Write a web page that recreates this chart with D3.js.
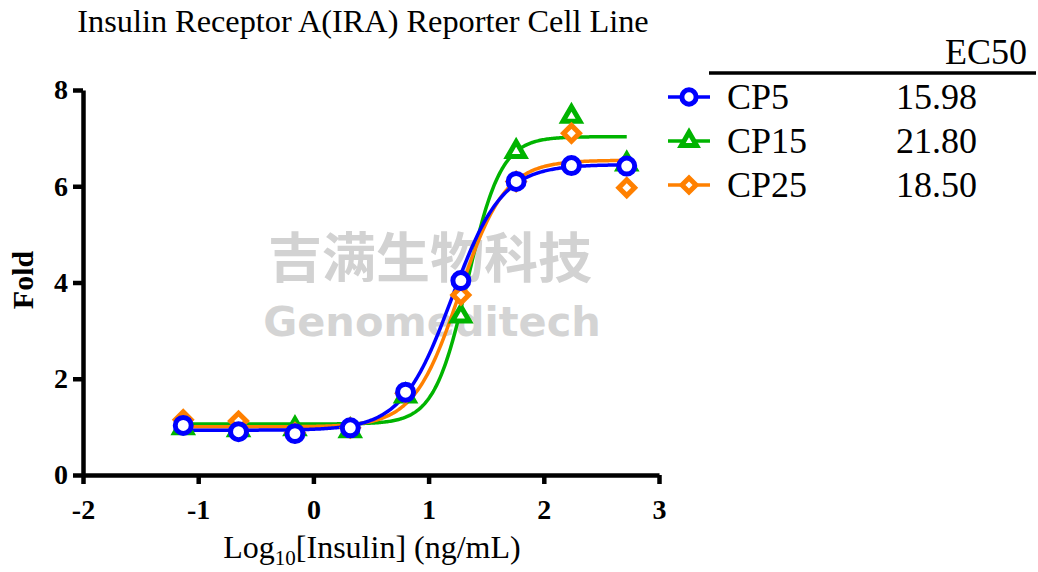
<!DOCTYPE html>
<html>
<head>
<meta charset="utf-8">
<script src="https://cdn.jsdelivr.net/npm/d3@7"></script>
<style>
  body { margin: 0; background: #fff; }
  svg { display: block; }
</style>
</head>
<body>
<script>
// log10 concentration of each well (3-fold dilutions)
const logDose = [-1.13, -0.65, -0.16, 0.32, 0.80, 1.28, 1.76, 2.24, 2.72];

// measured fold values
const cp5  = [1.03, 0.90, 0.86, 0.98, 1.72, 4.04, 6.10, 6.43, 6.42];
const cp15 = [0.98, 0.94, 0.96, 0.92, 1.64, 3.30, 6.72, 7.45, 6.46];
const cp25 = [1.15, 1.12, 0.88, 0.98, 1.70, 3.74, 6.10, 7.10, 5.97];

// 4PL fit parameters: bottom, top, logEC50, hill
const seriesNames = ["CP5", "CP15", "CP25"];
const ec50Labels = ["15.98", "21.80", "18.50"];
const fitBottom = [0.93, 1.06, 1.00];
const fitTop = [6.45, 7.03, 6.54];
const fitLogEC50 = [Math.log10(15.98), Math.log10(21.80), Math.log10(18.50)];
const fitHill = [2.0, 3.0, 2.2];

const xTicks = [-2, -1, 0, 1, 2, 3];
const yTicks = [0, 2, 4, 6, 8];

const colors = ["#0000ff", "#00b400", "#ff8000"];

const width = 1038;
const height = 572;
const marginLeft = 83;
const marginRight = 379;
const marginTop = 90;
const marginBottom = 97;

const svg = d3.select("body").append("svg")
    .attr("width", width)
    .attr("height", height)
    .attr("viewBox", [0, 0, width, height])
    .style("font-family", "'Liberation Serif', 'Times New Roman', serif");

const x = d3.scaleLinear().domain([-2, 3]).range([marginLeft, width - marginRight]);
const y = d3.scaleLinear().domain([0, 8]).range([height - marginBottom, marginTop]);

// marker shapes: circle, triangle, diamond (rotated square)
function marker(sel, i, scale) {
  if (i === 0) {
    sel.attr("d", d3.symbol(d3.symbolCircle, 200 * scale)).attr("stroke-width", 5);
  } else if (i === 1) {
    sel.attr("d", d3.symbol(d3.symbolTriangle, 125 * scale)).attr("stroke-width", 5);
  } else {
    sel.attr("d", d3.symbol(d3.symbolSquare, 125 * scale)).attr("stroke-width", 5);
  }
  return sel;
}

// watermark
svg.append("text")
    .attr("x", 430).attr("y", 278)
    .attr("text-anchor", "middle")
    .attr("font-family", "'Noto Sans CJK SC', sans-serif")
    .attr("font-weight", "bold")
    .attr("font-size", 54)
    .attr("fill", "#d2d2d2")
    .text("吉满生物科技");
svg.append("text")
    .attr("x", 432).attr("y", 336)
    .attr("text-anchor", "middle")
    .attr("font-family", "'DejaVu Sans', sans-serif")
    .attr("font-weight", "bold")
    .attr("font-size", 41.5)
    .attr("fill", "#d4d4d4")
    .text("Genomeditech");

// title
svg.append("text")
    .attr("x", 363).attr("y", 32)
    .attr("text-anchor", "middle")
    .attr("font-size", 32.3)
    .text("Insulin Receptor A(IRA) Reporter Cell Line");

// fitted curves
const xs = d3.range(-1.13, 2.72 + 1e-9, 0.01);
const line = d3.line().x(d => x(d[0])).y(d => y(d[1]));
[1, 2, 0].forEach(i => {
  const pts = xs.map(v => [v, fitBottom[i] + (fitTop[i] - fitBottom[i]) /
      (1 + Math.pow(10, (fitLogEC50[i] - v) * fitHill[i]))]);
  svg.append("path")
      .datum(pts)
      .attr("fill", "none")
      .attr("stroke", colors[i])
      .attr("stroke-width", 3.5)
      .attr("d", line);
});

// data points
const data = [cp5, cp15, cp25];
[1, 2, 0].forEach(i => {
  svg.append("g").selectAll("path")
    .data(data[i].map((v, k) => [logDose[k], v]))
    .join("path")
      .attr("transform", d => `translate(${x(d[0])},${y(d[1])})` + (i === 2 ? " rotate(45)" : ""))
      .attr("fill", "#fff")
      .attr("stroke", colors[i])
      .call(marker, i, 1);
});

// axes
const xAxis = svg.append("g")
    .attr("transform", `translate(0,${height - marginBottom})`)
    .call(d3.axisBottom(x).tickValues(xTicks).tickSize(9).tickPadding(15).tickSizeOuter(0));
const yAxis = svg.append("g")
    .attr("transform", `translate(${marginLeft},0)`)
    .call(d3.axisLeft(y).tickValues(yTicks).tickSize(10).tickPadding(5).tickSizeOuter(0));
[xAxis, yAxis].forEach(g => {
  g.select(".domain").attr("stroke-width", 4.5).attr("stroke", "#000");
  g.selectAll(".tick line").attr("stroke-width", 4.5).attr("stroke", "#000");
  g.selectAll(".tick text")
      .attr("font-family", "'Liberation Serif', serif")
      .attr("font-weight", "bold")
      .attr("font-size", 28)
      .attr("fill", "#000");
});
xAxis.selectAll(".tick text").text(d => d < 0 ? "-" + Math.abs(d) : d);

// axis titles
const xt = svg.append("text")
    .attr("x", 372).attr("y", 558)
    .attr("text-anchor", "middle")
    .attr("font-size", 32);
xt.append("tspan").text("Log");
xt.append("tspan").attr("font-size", 21).attr("dy", 7).text("10");
xt.append("tspan").attr("dy", -7).text("[Insulin] (ng/mL)");

svg.append("text")
    .attr("transform", "translate(33,280) rotate(-90)")
    .attr("text-anchor", "middle")
    .attr("font-weight", "bold")
    .attr("font-size", 30)
    .text("Fold");

// legend table
svg.append("text")
    .attr("x", 1027).attr("y", 64)
    .attr("text-anchor", "end")
    .attr("font-size", 36)
    .text("EC50");
svg.append("line")
    .attr("x1", 709).attr("x2", 1036)
    .attr("y1", 73).attr("y2", 73)
    .attr("stroke", "#000").attr("stroke-width", 3.5);

seriesNames.forEach((name, i) => {
  const cy = 97 + i * 44;
  const row = svg.append("g");
  row.append("line")
      .attr("x1", 668).attr("x2", 710)
      .attr("y1", cy).attr("y2", cy)
      .attr("stroke", colors[i]).attr("stroke-width", 3.5);
  row.append("path")
      .attr("transform", `translate(689,${cy})` + (i === 2 ? " rotate(45)" : ""))
      .attr("fill", "#fff")
      .attr("stroke", colors[i])
      .call(marker, i, 0.8);
  row.append("text")
      .attr("x", 727).attr("y", cy + 12)
      .attr("font-size", 36)
      .text(name);
  row.append("text")
      .attr("x", 977).attr("y", cy + 12)
      .attr("text-anchor", "end")
      .attr("font-size", 36)
      .text(ec50Labels[i]);
});
</script>
</body>
</html>
